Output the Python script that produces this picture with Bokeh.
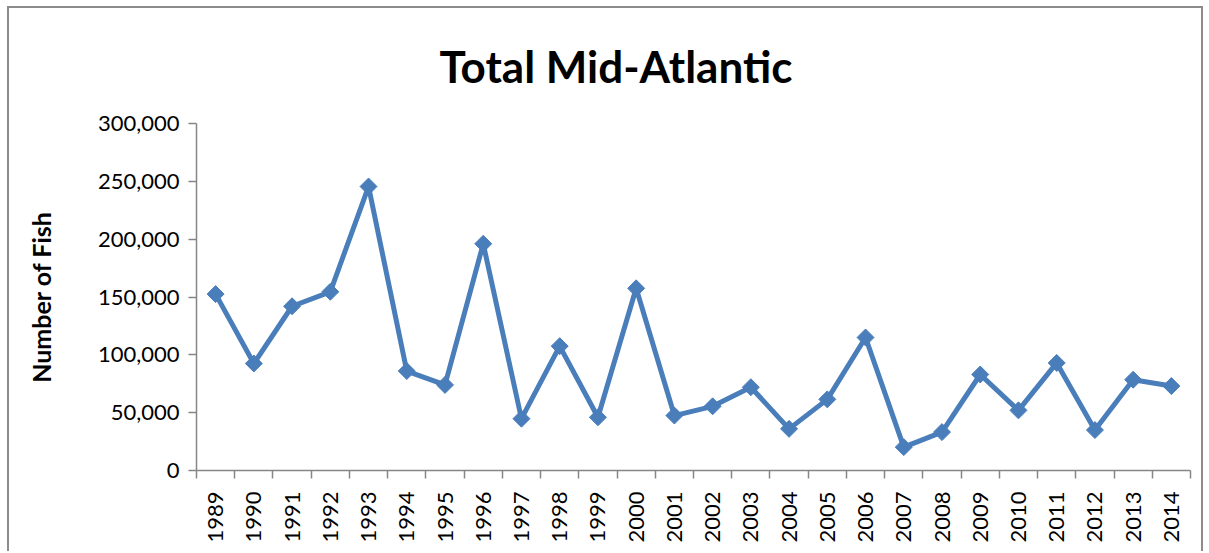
import math
from bokeh.plotting import figure
from bokeh.models import FixedTicker, NumeralTickFormatter, Range1d
from bokeh.embed import file_html
from bokeh.resources import INLINE

title_text = "Total Mid-Atlantic"
y_label = "Number of Fish"
years = [1989, 1990, 1991, 1992, 1993, 1994, 1995, 1996, 1997, 1998, 1999, 2000, 2001,
         2002, 2003, 2004, 2005, 2006, 2007, 2008, 2009, 2010, 2011, 2012, 2013, 2014]
fish = [152500, 92500, 142000, 154500, 245500, 86000, 74000, 196000, 44800, 107500, 46000,
        157500, 47500, 55500, 72000, 36000, 61500, 115000, 20200, 33200, 83000, 52000,
        93000, 35000, 78500, 73000]
y_ticks = [0, 50000, 100000, 150000, 200000, 250000, 300000]

color = "#4a7ebb"
axis_color = "#868686"
font = "Lato"

p = figure(width=1196, height=545, output_backend="svg", toolbar_location=None,
           x_range=Range1d(years[0] - 0.5, years[-1] + 0.5), y_range=Range1d(0, 300000),
           min_border_left=187, min_border_right=15, min_border_top=115, min_border_bottom=83)

p.styles = {"border-left": "2px solid #8c8c8c", "border-top": "2px solid #8c8c8c",
            "border-right": "2px solid #8c8c8c", "margin-left": "7px", "margin-top": "6px"}

p.title.text = title_text
p.title.text_font = font
p.title.text_font_size = "44px"
p.title.text_font_style = "bold"
p.title.text_color = "black"
p.title.align = "left"
p.title.offset = 243
p.title.vertical_align = "top"
p.title.standoff = 60

p.outline_line_color = None
p.grid.visible = False

p.line(years, fish, line_color=color, line_width=5)
p.scatter(years, fish, marker="square", angle=math.pi / 4, size=12,
          fill_color=color, line_color=color)

# x axis: labels at year centers, ticks at boundaries
xa = p.xaxis[0]
xa.ticker = FixedTicker(ticks=years, minor_ticks=[y - 0.5 for y in years] + [years[-1] + 0.5])
xa.major_tick_out = 0
xa.major_tick_in = 0
xa.minor_tick_out = 8
xa.minor_tick_in = 0
xa.minor_tick_line_color = axis_color
xa.minor_tick_line_width = 1.5
xa.axis_line_color = axis_color
xa.axis_line_width = 1.5
xa.major_label_orientation = math.pi / 2
xa.major_label_text_font = font
xa.major_label_text_font_size = "22px"
xa.major_label_text_color = "black"
xa.major_label_standoff = 13

ya = p.yaxis[0]
ya.ticker = FixedTicker(ticks=y_ticks, minor_ticks=[])
ya.formatter = NumeralTickFormatter(format="0,0")
ya.major_tick_out = 8
ya.major_tick_in = 0
ya.major_tick_line_color = axis_color
ya.major_tick_line_width = 1.5
ya.minor_tick_line_color = None
ya.axis_line_color = axis_color
ya.axis_line_width = 1.5
ya.major_label_text_font = font
ya.major_label_text_font_size = "22px"
ya.major_label_text_color = "black"
ya.major_label_standoff = 9
ya.axis_label = y_label
ya.axis_label_text_font = font
ya.axis_label_text_font_size = "25px"
ya.axis_label_text_font_style = "bold"
ya.axis_label_text_color = "black"
ya.axis_label_standoff = 39

open("out.html", "w").write(file_html(p, INLINE))
